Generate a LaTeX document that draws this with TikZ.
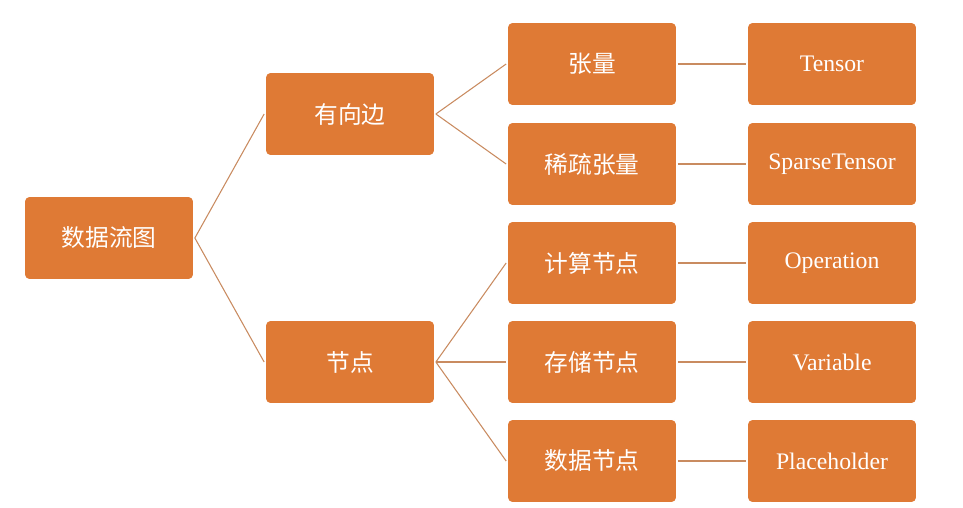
\documentclass[tikz,border=0pt]{standalone}
\usepackage{fontspec}
\setmainfont{Liberation Serif}
\newfontfamily\cjk{Noto Sans CJK SC}
\begin{document}
\begin{tikzpicture}[x=0.02cm,y=-0.02cm,
  box/.style={draw=white,line width=1pt,fill=boxor,rounded corners=3pt,minimum width=3.4cm,minimum height=1.68cm,text=white,font=\fontsize{13.5}{16}\selectfont,inner sep=0pt},
  link/.style={draw=linec,line width=0.6pt}]
\definecolor{boxor}{HTML}{DF7A35}
\definecolor{linec}{HTML}{C98B60}
\useasboundingbox (0,0) rectangle (963,507);
\fill[white] (0,0) rectangle (963,507);
\node[box] (root) at (109,238) {\cjk 数据流图};
\node[box] (edge) at (350,114) {\cjk 有向边};
\node[box] (node) at (350,362) {\cjk 节点};
\node[box] (a) at (592,64) {\cjk 张量};
\node[box] (b) at (592,164) {\cjk 稀疏张量};
\node[box] (c) at (592,263) {\cjk 计算节点};
\node[box] (d) at (592,362) {\cjk 存储节点};
\node[box] (e) at (592,461) {\cjk 数据节点};
\node[box] (a2) at (832,64) {Tensor};
\node[box] (b2) at (832,164) {SparseTensor};
\node[box] (c2) at (832,263) {Operation};
\node[box] (d2) at (832,362) {Variable};
\node[box] (e2) at (832,461) {Placeholder};
\draw[link] (root.east) -- (edge.west);
\draw[link] (root.east) -- (node.west);
\draw[link] (edge.east) -- (a.west);
\draw[link] (edge.east) -- (b.west);
\draw[link] (node.east) -- (c.west);
\draw[link] (node.east) -- (d.west);
\draw[link] (node.east) -- (e.west);
\draw[link] (a.east) -- (a2.west);
\draw[link] (b.east) -- (b2.west);
\draw[link] (c.east) -- (c2.west);
\draw[link] (d.east) -- (d2.west);
\draw[link] (e.east) -- (e2.west);
\end{tikzpicture}
\end{document}
